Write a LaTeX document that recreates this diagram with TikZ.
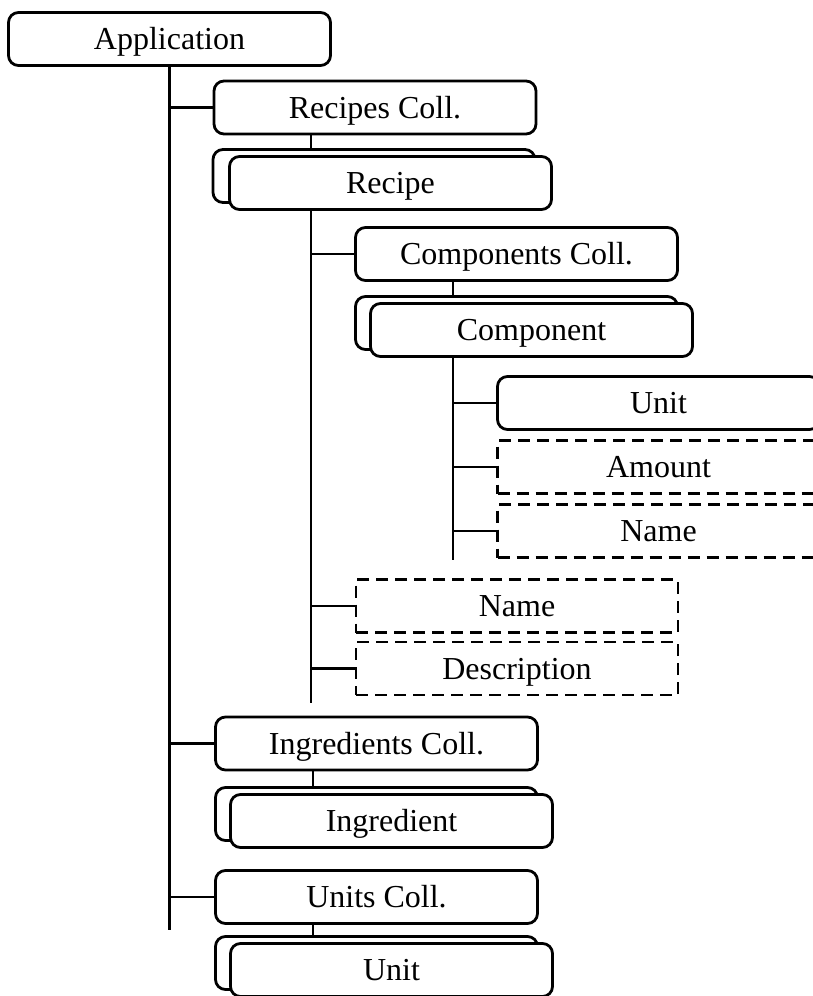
\documentclass[tikz,border=0pt]{standalone}
\usepackage{fontspec}
\setmainfont{Liberation Serif}
\begin{document}
\begin{tikzpicture}[x=1pt,y=-1pt,
  every node/.style={font=\fontsize{32}{38}\selectfont, text height=21pt, text depth=0pt, inner sep=0pt},
  box/.style={draw, line width=2.8pt, rounded corners=10pt, minimum width=322pt, minimum height=53pt},
  dbox/.style={draw, line width=2.8pt, dash pattern=on 12pt off 7pt, minimum width=322pt, minimum height=53pt},
  wire/.style={line width=2.8pt}
]
\useasboundingbox (0,0) rectangle (813,996);
\clip (0,0) rectangle (813,996);

% top level
\node[box] (app) at (169.5,39) {Application};
\coordinate (trunkend) at (169.5,930);

% recipes branch
\node[box] (recc) at (375,107.5) {Recipes Coll.};
\node[box] (recb) at (374,176) {};
\node[box, fill=white] (rec) at (390.5,183) {Recipe};
\coordinate (rt) at (311,703);

\node[box] (compc) at (516.5,254) {Components Coll.};
\node[box] (compb) at (516.5,323) {};
\node[box, fill=white] (comp) at (531.5,330) {Component};
\coordinate (ct) at (453,560);

\node[box] (cunit) at (658.5,403) {Unit};
\node[dbox] (camount) at (658.5,467) {Amount};
\node[dbox] (cname) at (658.5,531) {Name};

\node[dbox] (rname) at (517,606) {Name};
\node[dbox] (rdesc) at (517,668.5) {Description};

% ingredients branch
\node[box] (ingc) at (376.5,743.5) {Ingredients Coll.};
\node[box] (ingb) at (376.5,814) {};
\node[box, fill=white] (ing) at (391.5,821) {Ingredient};

% units branch
\node[box] (unitsc) at (376.5,897) {Units Coll.};
\node[box] (unitb) at (376.5,963) {};
\node[box, fill=white] (unit) at (391.5,970) {Unit};
\coordinate (ut) at (313,0);

% main trunk
\draw[wire] (app.south) -- (trunkend);
\draw[wire] (app.south |- recc.west) -- (recc.west);
\draw[wire] (app.south |- ingc.west) -- (ingc.west);
\draw[wire] (app.south |- unitsc.west) -- (unitsc.west);

% recipe subtree
\draw[wire] (recc.south -| rt) -- (recb.north -| rt);
\draw[wire] (rec.south -| rt) -- (rt);
\draw[wire] (rt |- compc.west) -- (compc.west);
\draw[wire] (rt |- rname.west) -- (rname.west);
\draw[wire] (rt |- rdesc.west) -- (rdesc.west);

% component subtree
\draw[wire] (compc.south -| ct) -- (compb.north -| ct);
\draw[wire] (comp.south -| ct) -- (ct);
\draw[wire] (ct |- cunit.west) -- (cunit.west);
\draw[wire] (ct |- camount.west) -- (camount.west);
\draw[wire] (ct |- cname.west) -- (cname.west);

% collections to items
\draw[wire] (ingc.south -| ut) -- (ingb.north -| ut);
\draw[wire] (unitsc.south -| ut) -- (unitb.north -| ut);
\end{tikzpicture}
\end{document}
